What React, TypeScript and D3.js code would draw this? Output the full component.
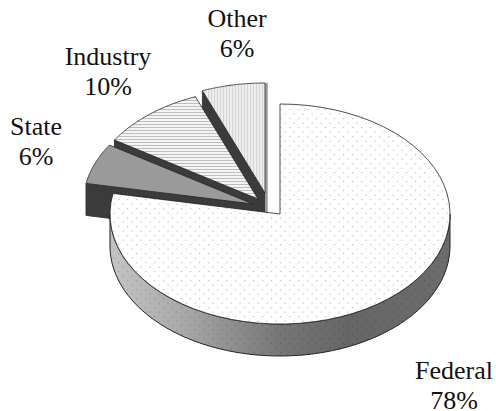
import React from 'react'
import * as d3 from 'd3'

const categories = ['Federal', 'State', 'Industry', 'Other']
const shares = [78, 6, 10, 6]

const WIDTH = 496
const HEIGHT = 411
const CX = 280
const CY = 214
const RX = 170
const RY = 110
const DEPTH = 32

// how far each slice is pulled out of the pie
const explode: [number, number][] = [[0, 0], [-27, -10], [-22, -15], [-15, -21]]
const labelPos: [number, number][] = [[454, 379], [36, 135], [108, 65], [237, 27]]
const faceFill = ['url(#dots)', '#9a9a9a', 'url(#hlines)', 'url(#vlines)']
const WALL = '#3b3b3b'

const arcs = d3.pie<number>().sort(null).startAngle(0).endAngle(2 * Math.PI)(shares)

const pt = (a: number, ox = 0, oy = 0, r = 1): [number, number] => [
  CX + ox + RX * r * Math.sin(a),
  CY + oy - RY * r * Math.cos(a),
]

const line = d3.line()

function arcPoints(a0: number, a1: number, ox: number, oy: number) {
  return d3.range(0, 61).map(i => pt(a0 + ((a1 - a0) * i) / 60, ox, oy))
}

export default function App() {
  const sliceOrder = [3, 2, 1]
  const fed = arcs[0]
  const sideAngles = arcPoints(Math.PI / 2, (3 * Math.PI) / 2, 0, 0)
  const side = [...sideAngles, ...sideAngles.map(([x, y]) => [x, y + DEPTH] as [number, number]).reverse()]

  return (
    <svg
      width={WIDTH}
      height={HEIGHT}
      style={{ position: 'absolute', left: 0, top: 0, background: '#fff', fontFamily: '"Liberation Serif", serif' }}
    >
      <defs>
        <pattern id="dots" width="9" height="9" patternUnits="userSpaceOnUse">
          <rect width="9" height="9" fill="#fff" />
          <rect x="1" y="1" width="1.2" height="1.2" fill="#c0c0c0" />
          <rect x="5.5" y="5.5" width="1.2" height="1.2" fill="#c0c0c0" />
        </pattern>
        <pattern id="sideDots" width="9" height="9" patternUnits="userSpaceOnUse">
          <rect x="1" y="1" width="1.2" height="1.2" fill="#000" opacity="0.18" />
          <rect x="5.5" y="5.5" width="1.2" height="1.2" fill="#000" opacity="0.18" />
        </pattern>
        <pattern id="hlines" width="3" height="3" patternUnits="userSpaceOnUse">
          <rect width="3" height="3" fill="#f4f4f4" />
          <rect y="1" width="3" height="1" fill="#bdbdbd" />
        </pattern>
        <pattern id="vlines" width="3" height="3" patternUnits="userSpaceOnUse">
          <rect width="3" height="3" fill="#eeeeee" />
          <rect x="1" width="1" height="3" fill="#d4d4d4" />
        </pattern>
        <linearGradient id="sideGrad" x1="0" x2="1" y1="0" y2="0">
          <stop offset="0" stopColor="#c4c4c4" />
          <stop offset="0.2" stopColor="#ababab" />
          <stop offset="0.5" stopColor="#767676" />
          <stop offset="0.7" stopColor="#666" />
          <stop offset="1" stopColor="#6c6c6c" />
        </linearGradient>
      </defs>

      {sliceOrder.map(i => {
        const d = arcs[i]
        const [ox, oy] = explode[i]
        const apex = pt(0, ox, oy, 0)
        const outerStart = pt(d.startAngle, ox, oy)
        const outerEnd = pt(d.endAngle, ox, oy)
        const rim = arcPoints(d.startAngle, d.endAngle, ox, oy)
        const low = (p: [number, number]) => [p[0], p[1] + DEPTH] as [number, number]
        return (
          <g key={categories[i]}>
            {/* radial cut wall */}
            <path d={line([apex, outerStart, low(outerStart), low(apex)])! + 'Z'} fill={WALL} stroke={WALL} />
            {/* thin grey edge on the cut that faces right */}
            {i === 3 && (
              <path
                d={line([[outerEnd[0] + 1.5, outerEnd[1]], [apex[0] + 1.5, apex[1] + DEPTH]])!}
                stroke="#9a9a9a"
                strokeWidth={2.5}
                fill="none"
              />
            )}
            <path d={line([apex, ...rim])! + 'Z'} fill={faceFill[i]} stroke="#222" strokeWidth={0.8} />
          </g>
        )
      })}

      <path d={line(side)! + 'Z'} fill="url(#sideGrad)" stroke="#222" strokeWidth={1} />
      <path d={line(side)! + 'Z'} fill="url(#sideDots)" />
      <path
        d={line([pt(0, 0, 0, 0), ...arcPoints(fed.startAngle, fed.endAngle, 0, 0)])! + 'Z'}
        fill={faceFill[0]}
        stroke="#222"
        strokeWidth={0.8}
      />

      {categories.map((c, i) => (
        <text key={c} x={labelPos[i][0]} y={labelPos[i][1]} textAnchor="middle" fontSize={26} fill="#111">
          <tspan x={labelPos[i][0]}>{c}</tspan>
          <tspan x={labelPos[i][0]} dy={30}>{shares[i]}%</tspan>
        </text>
      ))}
    </svg>
  )
}
